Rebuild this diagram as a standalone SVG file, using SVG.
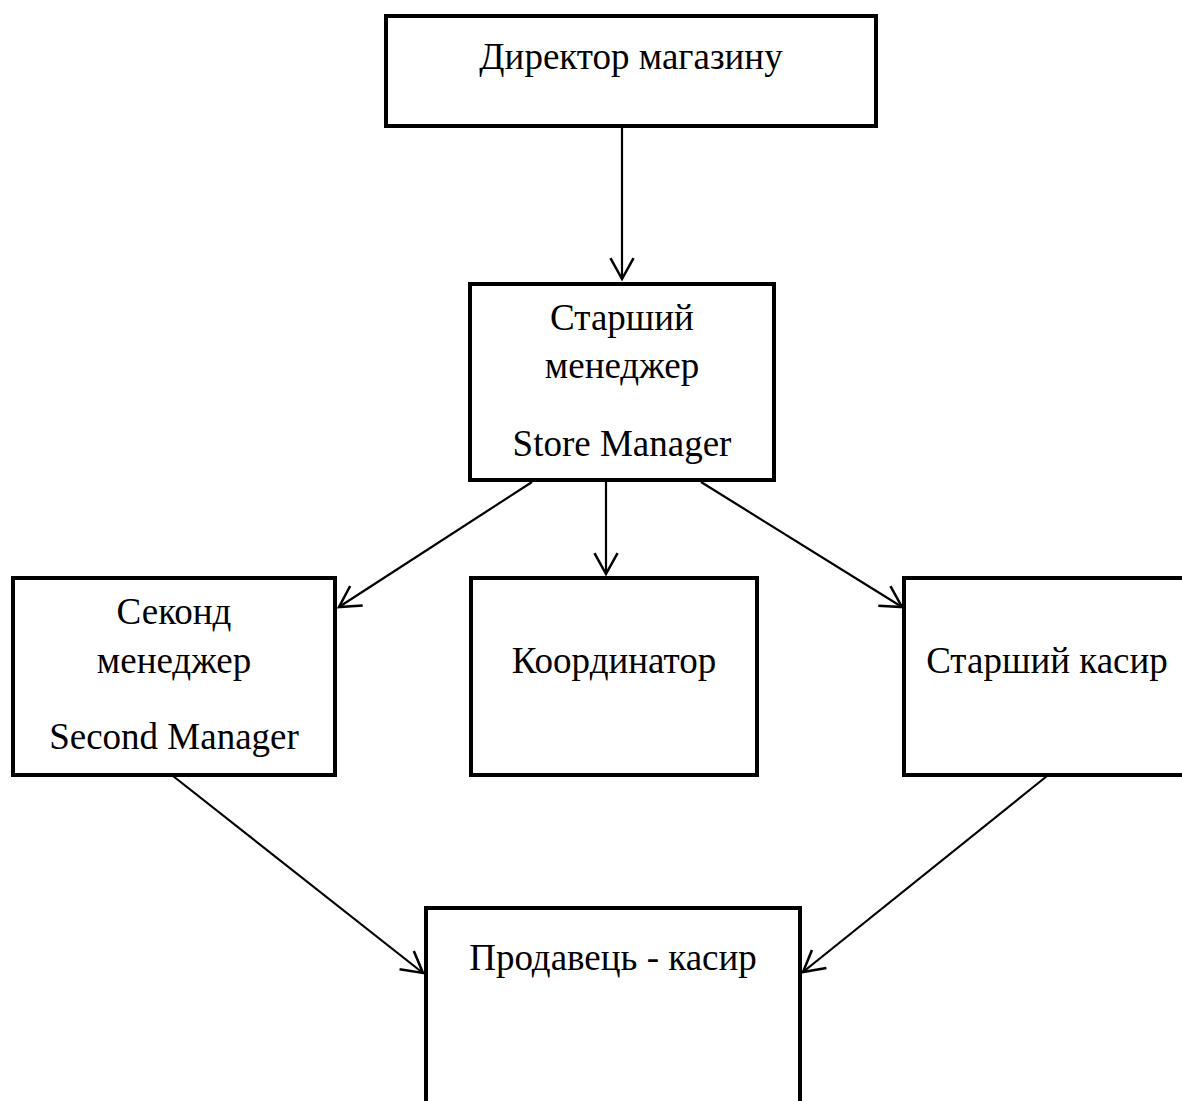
<svg xmlns="http://www.w3.org/2000/svg" width="1182" height="1101" viewBox="0 0 1182 1101">
<style>
.box{fill:#fff;stroke:#000;stroke-width:4}
.lbl{font-family:"Liberation Serif","Times New Roman",serif;font-size:37px;fill:#000;text-anchor:middle}
.edge{stroke:#000;stroke-width:2.2;fill:none;marker-end:url(#arr)}
</style>
<defs>
<marker id="arr" markerUnits="userSpaceOnUse" markerWidth="30" markerHeight="30" viewBox="-22 -13 24 26" refX="0" refY="0" orient="auto">
<path d="M-18,-10 L0,0 L-18,10" fill="none" stroke="#000" stroke-width="2.2"/>
</marker>
</defs>
<rect width="1182" height="1101" fill="#fff"/>
<g id="connectors">
<line class="edge" x1="622" y1="128" x2="622" y2="279"/>
<line class="edge" x1="532" y1="482" x2="339" y2="607"/>
<line class="edge" x1="606" y1="482" x2="606" y2="574"/>
<line class="edge" x1="701" y1="482" x2="902" y2="607"/>
<line class="edge" x1="173" y1="776" x2="423" y2="973"/>
<line class="edge" x1="1047" y1="776" x2="803" y2="972"/>
</g>
<g id="director">
<rect class="box" x="386" y="16" width="490" height="110"/>
<text class="lbl" x="631" y="69">Директор магазину</text>
</g>
<g id="store-manager">
<rect class="box" x="470" y="284" width="304" height="196"/>
<text class="lbl" x="622" y="330">Старший</text>
<text class="lbl" x="622" y="378">менеджер</text>
<text class="lbl" x="622" y="456">Store Manager</text>
</g>
<g id="second-manager">
<rect class="box" x="13" y="578" width="322" height="197"/>
<text class="lbl" x="174" y="624">Секонд</text>
<text class="lbl" x="174" y="673">менеджер</text>
<text class="lbl" x="174" y="749">Second Manager</text>
</g>
<g id="coordinator">
<rect class="box" x="471" y="578" width="286" height="197"/>
<text class="lbl" x="614" y="673">Координатор</text>
</g>
<g id="senior-cashier">
<rect class="box" x="904" y="578" width="287" height="197"/>
<text class="lbl" x="1047" y="673">Старший касир</text>
</g>
<g id="seller-cashier">
<rect class="box" x="426" y="908" width="374" height="210"/>
<text class="lbl" x="613" y="970">Продавець - касир</text>
</g>
</svg>
